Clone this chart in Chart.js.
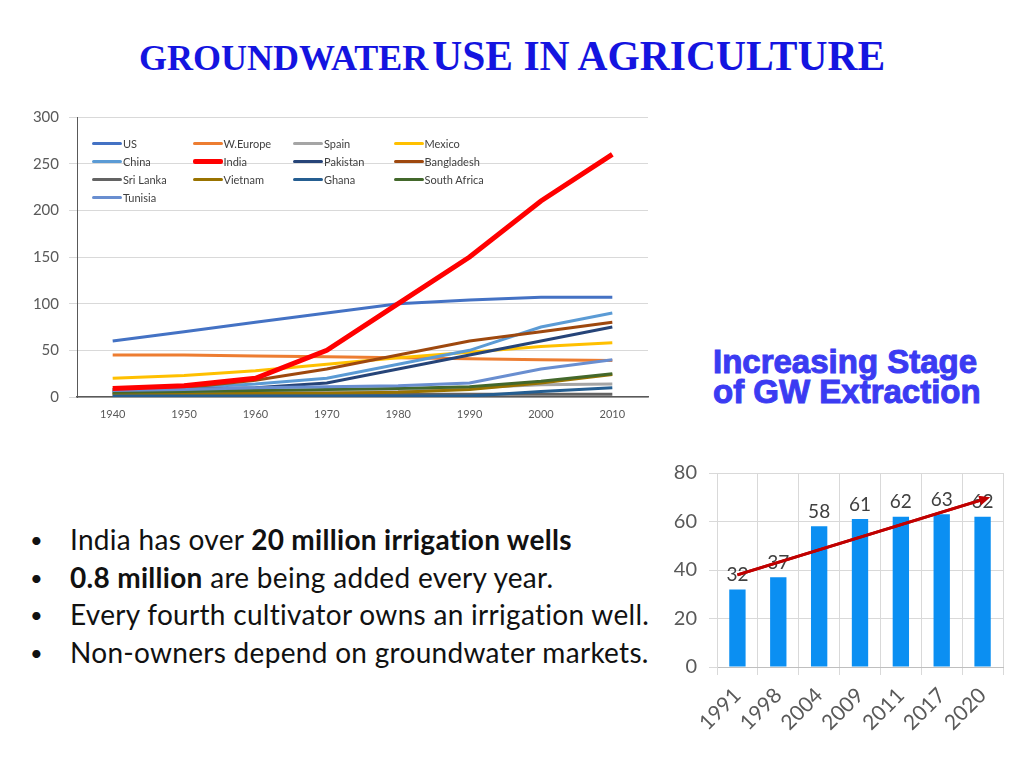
<!DOCTYPE html>
<html>
<head>
<meta charset="utf-8">
<script src="https://cdn.jsdelivr.net/npm/chart.js@4/dist/chart.umd.min.js"></script>
<style>
  body { margin: 0; width: 1024px; height: 768px; background: #fff; position: relative; overflow: hidden; }
  #titulo { position: absolute; left: 0; width: 1024px; top: 32px; text-align: center;
    font-family: "Liberation Serif", serif; font-weight: bold; color: #1414e0; white-space: nowrap; }
  #titulo .chico { font-size: 36px; }
  #titulo .grande { font-size: 41.5px; }
  #lineas { position: absolute; left: 20px; top: 98px; }
  #barras { position: absolute; left: 670px; top: 449px; }
  #leyenda { position: absolute; left: 92px; top: 134px; width: 420px; font-family: Lato, sans-serif;
    font-size: 11px; color: #404040; }
  .item { position: absolute; height: 18px; display: flex; align-items: center; white-space: nowrap; }
  .item span.linea { display: inline-block; width: 30px; margin-right: 1px; border-radius: 2px; }
  #etapa { position: absolute; left: 713px; top: 347px; font-family: "Liberation Sans", sans-serif;
    font-weight: bold; font-size: 33px; line-height: 30px; color: #3b3bf2; -webkit-text-stroke: 1px #3b3bf2; }
  #puntos { position: absolute; left: 28px; top: 521px; margin: 0; padding: 0; list-style: none;
    font-family: Lato, sans-serif; font-size: 28px; letter-spacing: 0.3px; color: #111; }
  #puntos li { height: 37.7px; line-height: 37.7px; position: relative; padding-left: 42px; white-space: nowrap; }
  #puntos li::before { content: "\2022"; position: absolute; left: 2px; font-size: 22px; }
</style>
</head>
<body>
<div id="titulo"><span class="chico">GROUNDWATER</span> <span class="grande">USE IN AGRICULTURE</span></div>
<canvas id="lineas" width="640" height="332"></canvas>
<div id="leyenda"></div>
<div id="etapa">Increasing Stage<br>of GW Extraction</div>
<canvas id="barras" width="340" height="311"></canvas>
<ul id="puntos">
  <li>India has over <b>20 million irrigation wells</b></li>
  <li><b>0.8 million</b> are being added every year.</li>
  <li>Every fourth cultivator owns an irrigation well.</li>
  <li>Non-owners depend on groundwater markets.</li>
</ul>
<script>
// datos del grafico de lineas
const anios = ['1940', '1950', '1960', '1970', '1980', '1990', '2000', '2010'];
const paises = ['US', 'W.Europe', 'Spain', 'Mexico', 'China', 'India', 'Pakistan', 'Bangladesh',
  'Sri Lanka', 'Vietnam', 'Ghana', 'South Africa', 'Tunisia'];
const us = [60, 70, 80, 90, 100, 104, 107, 107];
const europa = [45, 45, 44, 43, 42, 41, 40, 39];
const espana = [4, 4, 5, 5, 6, 10, 13, 14];
const mexico = [20, 23, 28, 35, 42, 48, 54, 58];
const china = [8, 10, 14, 20, 35, 50, 75, 90];
const india = [9, 12, 20, 50, 100, 150, 210, 260];
const pakistan = [5, 8, 10, 15, 30, 45, 60, 75];
const bangladesh = [8, 10, 18, 30, 45, 60, 70, 80];
const sriLanka = [3, 3, 3, 3, 3, 3, 3, 3];
const vietnam = [3, 3, 4, 4, 5, 8, 15, 24];
const ghana = [1, 1, 1, 1, 1, 1, 6, 10];
const sudafrica = [5, 6, 7, 8, 9, 11, 17, 25];
const tunez = [7, 8, 10, 11, 12, 15, 30, 40];
const ticksY = [0, 50, 100, 150, 200, 250, 300];

// datos del grafico de barras
const periodos = ['1991', '1998', '2004', '2009', '2011', '2017', '2020'];
const etapa = [32, 37, 58, 61, 62, 63, 62];
const tendencia = [38, null, null, null, null, null, 69];

const series = [us, europa, espana, mexico, china, india, pakistan, bangladesh, sriLanka, vietnam, ghana, sudafrica, tunez];
const colores = ['#4472c4', '#ed7d31', '#a5a5a5', '#ffc000', '#5b9bd5', '#ff0000', '#264478',
  '#9e480e', '#636363', '#997300', '#255e91', '#43682b', '#698ed0'];

const gris = '#595959';

new Chart(document.getElementById('lineas'), {
  type: 'line',
  data: {
    labels: anios,
    datasets: series.map((s, i) => ({
      label: paises[i],
      data: s,
      borderColor: colores[i],
      backgroundColor: colores[i],
      borderWidth: paises[i] === 'India' ? 5 : 3,
      pointRadius: 0,
      tension: 0,
      order: paises[i] === 'India' ? -1 : 12 - i
    }))
  },
  options: {
    responsive: false,
    animation: false,
    layout: { padding: { top: 5, right: 12, left: 0, bottom: 0 } },
    plugins: { legend: { display: false }, tooltip: { enabled: false } },
    scales: {
      x: {
        offset: true,
        grid: { display: false },
        border: { display: true, color: gris, width: 1.5 },
        ticks: { color: gris, font: { family: 'Lato', size: 11 }, maxRotation: 0, padding: 3 },
        afterFit: (s) => { s.height = 33; }
      },
      y: {
        min: 0, max: 300,
        afterBuildTicks: (s) => { s.ticks = ticksY.map(v => ({ value: v })); },
        grid: { color: '#d9d9d9' },
        border: { display: true, color: gris, width: 1 },
        ticks: { color: gris, font: { family: 'Lato', size: 15 }, padding: 10 },
        afterFit: (s) => { s.width = 57; }
      }
    }
  }
});

// leyenda en cuadricula de 4 columnas
const leyenda = document.getElementById('leyenda');
paises.forEach((p, i) => {
  const d = document.createElement('div');
  d.className = 'item';
  d.style.left = (i % 4) * 100.5 + 'px';
  d.style.top = Math.floor(i / 4) * 18 + 'px';
  const l = document.createElement('span');
  l.className = 'linea';
  l.style.background = colores[i];
  l.style.height = p === 'India' ? '5px' : '3px';
  d.appendChild(l);
  d.appendChild(document.createTextNode(p));
  leyenda.appendChild(d);
});

// etiquetas sobre las barras y punta de flecha
const etiquetas = {
  id: 'etiquetas',
  afterDatasetsDraw(chart) {
    const ctx = chart.ctx;
    const barras = chart.getDatasetMeta(0);
    ctx.save();
    ctx.fillStyle = '#404040';
    ctx.font = '19px Lato';
    ctx.textAlign = 'center';
    ctx.textBaseline = 'bottom';
    barras.data.forEach((b, i) => {
      ctx.fillText(etapa[i], b.x, b.y - 5);
    });
    ctx.restore();
  },
  afterDraw(chart) {
    const ctx = chart.ctx;
    const pts = chart.getDatasetMeta(1).data;
    const a = pts[0], b = pts[pts.length - 1];
    // volver a dibujar la linea encima de las etiquetas
    ctx.save();
    ctx.strokeStyle = '#c00000';
    ctx.lineWidth = 3;
    ctx.beginPath();
    ctx.moveTo(a.x, a.y);
    ctx.lineTo(b.x, b.y);
    ctx.stroke();
    const ang = Math.atan2(b.y - a.y, b.x - a.x);
    ctx.fillStyle = '#c00000';
    ctx.translate(b.x + 4 * Math.cos(ang), b.y + 4 * Math.sin(ang));
    ctx.rotate(ang);
    ctx.beginPath();
    ctx.moveTo(4, 0);
    ctx.lineTo(-7, -5);
    ctx.lineTo(-7, 5);
    ctx.closePath();
    ctx.fill();
    ctx.restore();
  }
};

new Chart(document.getElementById('barras'), {
  data: {
    labels: periodos,
    datasets: [
      {
        type: 'bar',
        data: etapa,
        backgroundColor: '#0b8ff2',
        barPercentage: 0.4,
        categoryPercentage: 1,
        order: 2
      },
      {
        type: 'line',
        data: tendencia,
        spanGaps: true,
        borderColor: '#c00000',
        borderWidth: 3,
        pointRadius: 0,
        order: 1
      }
    ]
  },
  options: {
    responsive: false,
    animation: false,
    layout: { padding: { top: 2, right: 7, left: 0, bottom: 0 } },
    plugins: { legend: { display: false }, tooltip: { enabled: false } },
    scales: {
      x: {
        grid: { display: true, color: '#d9d9d9', offset: true },
        border: { display: true, color: '#bfbfbf' },
        ticks: { color: gris, font: { family: 'Lato', size: 21 }, minRotation: 45, maxRotation: 45, padding: 8 },
        afterFit: (s) => { s.height = 93; }
      },
      y: {
        min: 0, max: 80,
        ticks: { stepSize: 20, color: gris, font: { family: 'Lato', size: 20 }, padding: 12 },
        grid: { color: '#d9d9d9' },
        border: { display: true, color: '#d9d9d9' },
        afterFit: (s) => { s.width = 47; }
      }
    }
  },
  plugins: [etiquetas]
});
</script>
</body>
</html>
